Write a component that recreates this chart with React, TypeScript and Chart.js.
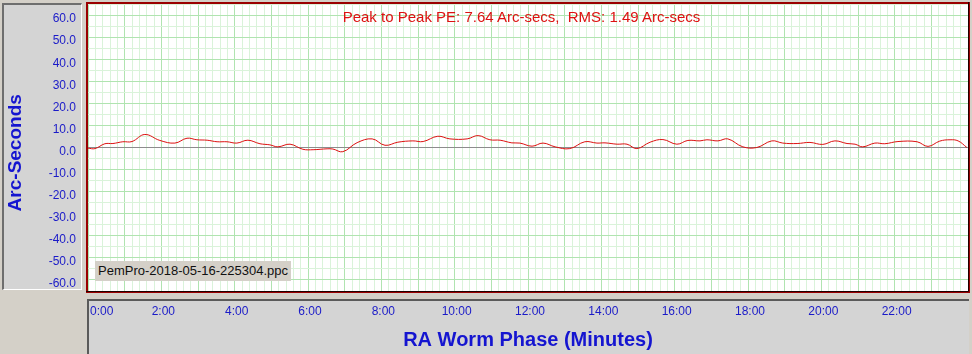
import React, { useEffect, useRef } from 'react';
import { Chart, registerables } from 'chart.js';

Chart.register(...registerables);

// RA worm phase in minutes
const phaseMinutes = [
  0, 0.19, 0.46, 0.68, 0.95, 1.2, 1.55, 1.96, 2.37, 2.7, 2.97, 3.25, 3.52, 3.79, 4.06, 4.36,
  4.69, 4.96, 5.18, 5.51, 5.86, 6.14, 6.52, 6.68, 6.95, 7.34, 7.75, 8.1, 8.45, 8.86, 9.14,
  9.54, 9.87, 10.34, 10.64, 10.96, 11.24, 11.56, 11.78, 12.11, 12.41, 12.74, 13.14, 13.55,
  13.88, 14.1, 14.43, 14.7, 14.97, 15.33, 15.68, 16.06, 16.36, 16.69, 16.88, 17.18, 17.45,
  17.86, 18.24, 18.65, 18.95, 19.34, 19.69, 20.04, 20.37, 20.7, 20.92, 21.13, 21.46, 21.73,
  22.09, 22.61, 22.91, 23.23, 23.51, 23.73, 23.97,
];

// Periodic error in arc-seconds
const errorArcsec = [
  -0.3, -0.5, 1.7, 1.8, 2.6, 2.7, 5.9, 3.2, 2.0, 4.2, 3.5, 3.3, 2.6, 2.6, 2.0, 3.3,
  1.7, 1.2, 0.3, 1.5, -0.8, -1.0, -0.6, -0.7, -1.9, 2.2, 3.9, 1.0, 2.4, 3.0, 2.7,
  5.1, 3.9, 3.9, 5.4, 3.5, 3.3, 2.1, 2.0, 0.6, 2.0, 0.3, -0.5, 2.6,
  2.0, 2.1, 1.5, 1.5, -0.5, 2.4, 3.6, 1.5, 3.2, 3.0, 3.5, 3.0, 3.9,
  0.3, 0.0, 3.0, 2.0, 1.8, 2.3, 1.4, 3.0, 1.8, 1.5, 0.3, 2.0, 1.7,
  2.7, 2.6, 0.5, 2.9, 3.5, 3.0, 0.0,
];

const xLabelMinutes = [0, 2, 4, 6, 8, 10, 12, 14, 16, 18, 20, 22];
const yLabelValues = [60, 50, 40, 30, 20, 10, 0, -10, -20, -30, -40, -50, -60];
const yMin = -65;
const yMax = 65;
const xMin = 0;
const xMax = 24;

const titleText = 'Peak to Peak PE: 7.64 Arc-secs,  RMS: 1.49 Arc-secs';
const fileName = 'PemPro-2018-05-16-225304.ppc';
const yTitle = 'Arc-Seconds';
const xTitle = 'RA Worm Phase (Minutes)';

const near = (a: number, b: number) => Math.abs(a - b) < 1e-6;
const isInt = (v: number) => near(v, Math.round(v));

const zeroPadding = (scale: any) => {
  scale.paddingTop = 0;
  scale.paddingBottom = 0;
  scale.paddingLeft = 0;
  scale.paddingRight = 0;
};

const framePlugin = {
  id: 'frame',
  beforeDraw(chart: any) {
    const { ctx, chartArea } = chart;
    const { left, top, right, bottom } = chartArea;
    ctx.save();
    ctx.fillStyle = '#ffffff';
    ctx.fillRect(left, top, right - left, bottom - top);
    ctx.restore();
  },
  afterDraw(chart: any) {
    const { ctx, chartArea } = chart;
    const { left, top, right, bottom } = chartArea;
    ctx.save();
    ctx.strokeStyle = '#9a0000';
    ctx.lineWidth = 2;
    ctx.strokeRect(left - 1, top - 1, right - left + 2, bottom - top + 2);
    ctx.strokeStyle = '#200000';
    ctx.lineWidth = 1;
    ctx.beginPath();
    ctx.moveTo(right + 0.5, top - 2);
    ctx.lineTo(right + 0.5, bottom + 0.5);
    ctx.lineTo(left - 2, bottom + 0.5);
    ctx.stroke();
    ctx.restore();
  },
};

export default function App() {
  const canvasRef = useRef<HTMLCanvasElement | null>(null);

  useEffect(() => {
    const canvas = canvasRef.current;
    if (!canvas) return;
    const points = phaseMinutes.map((x, i) => ({ x, y: errorArcsec[i] }));
    const chart = new Chart(canvas, {
      type: 'line',
      data: {
        datasets: [
          {
            data: points,
            borderColor: '#dd1111',
            borderWidth: 1,
            pointRadius: 0,
            tension: 0.4,
            fill: false,
          },
        ],
      },
      options: {
        animation: false,
        responsive: false,
        devicePixelRatio: 1,
        events: [],
        layout: { padding: { left: 0, right: 4, top: 4, bottom: 0 } },
        plugins: { legend: { display: false }, tooltip: { enabled: false } },
        scales: {
          x: {
            type: 'linear',
            min: xMin,
            max: xMax,
            afterBuildTicks: (scale: any) => {
              const t = [];
              for (let i = xMin * 5; i <= xMax * 5; i++) t.push({ value: i / 5 });
              scale.ticks = t;
            },
            afterFit: (scale: any) => {
              scale.height = 63;
              zeroPadding(scale);
            },
            border: { display: false },
            grid: {
              drawTicks: false,
              color: (c: any) => (isInt(c.tick.value) ? '#b0e4b0' : '#daf3da'),
              lineWidth: 1,
            },
            ticks: {
              autoSkip: false,
              maxRotation: 0,
              align: 'inner',
              padding: 13,
              labelOffset: 2,
              color: '#1a1ac8',
              font: { family: 'Liberation Sans, Arial, sans-serif', size: 12 },
              callback: (v: any) => {
                const n = Number(v);
                const hit = xLabelMinutes.find((m) => near(m, n));
                return hit !== undefined ? `${hit}:00` : '';
              },
            },
            title: {
              display: true,
              text: xTitle,
              color: '#1515d0',
              font: { family: 'Liberation Sans, Arial, sans-serif', size: 20, weight: 'bold' },
              padding: { top: 2, bottom: 2 },
            },
          },
          y: {
            type: 'linear',
            min: yMin,
            max: yMax,
            afterBuildTicks: (scale: any) => {
              const t = [];
              for (let v = yMin; v <= yMax; v += 5) t.push({ value: v });
              scale.ticks = t;
            },
            afterFit: (scale: any) => {
              scale.width = 88;
              zeroPadding(scale);
            },
            border: { display: false },
            grid: {
              drawTicks: false,
              color: (c: any) =>
                near(c.tick.value, 0) ? '#8c8c8c' : c.tick.value % 10 === 0 ? '#b0e4b0' : '#daf3da',
              lineWidth: 1,
            },
            ticks: {
              autoSkip: false,
              padding: 12,
              labelOffset: 4,
              color: '#1a1ac8',
              font: { family: 'Liberation Sans, Arial, sans-serif', size: 12 },
              callback: (v: any) => {
                const n = Number(v);
                return yLabelValues.some((m) => near(m, n)) ? n.toFixed(1) : '';
              },
            },
            title: {
              display: true,
              text: yTitle + '  ',
              color: '#1515d0',
              font: { family: 'Liberation Sans, Arial, sans-serif', size: 19, weight: 'bold' },
              padding: { top: 4, bottom: 0 },
            },
          },
        },
      },
      plugins: [framePlugin],
    } as any);
    return () => chart.destroy();
  }, []);

  const font = 'Liberation Sans, Arial, sans-serif';

  return (
    <div
      style={{
        position: 'fixed',
        left: 0,
        top: 0,
        width: 972,
        height: 354,
        background: '#d4d0c8',
        overflow: 'hidden',
      }}
    >
      {/* left axis panel */}
      <div
        style={{
          position: 'absolute',
          left: 2,
          top: 3,
          width: 80,
          height: 287,
          background: '#d4d4d4',
          borderLeft: '2px solid #6e6e6e',
          borderTop: '2px solid #6e6e6e',
          borderRight: '1px solid #ffffff',
          borderBottom: '1px solid #ffffff',
          boxSizing: 'border-box' as any,
        }}
      />
      {/* bottom axis panel */}
      <div
        style={{
          position: 'absolute',
          left: 87,
          top: 299,
          width: 882,
          height: 60,
          background: '#d4d4d4',
          borderLeft: '2px solid #5a5a5a',
          borderTop: '2px solid #5a5a5a',
          boxSizing: 'border-box' as any,
        }}
      />
      <canvas
        ref={canvasRef}
        width={972}
        height={354}
        style={{ position: 'absolute', left: 0, top: 0, width: 972, height: 354 }}
      />
      <div
        style={{
          position: 'absolute',
          left: 0,
          width: 1043,
          top: 8,
          textAlign: 'center',
          color: '#dd1111',
          fontFamily: font,
          fontSize: 15,
          whiteSpace: 'pre',
          lineHeight: '17px',
        }}
      >
        {titleText}
      </div>
      <div
        style={{
          position: 'absolute',
          left: 95,
          top: 261,
          height: 20,
          padding: '0 3px',
          background: '#d4d0c8',
          color: '#111111',
          fontFamily: font,
          fontSize: 13,
          lineHeight: '20px',
          whiteSpace: 'pre',
        }}
      >
        {fileName}
      </div>
    </div>
  );
}
